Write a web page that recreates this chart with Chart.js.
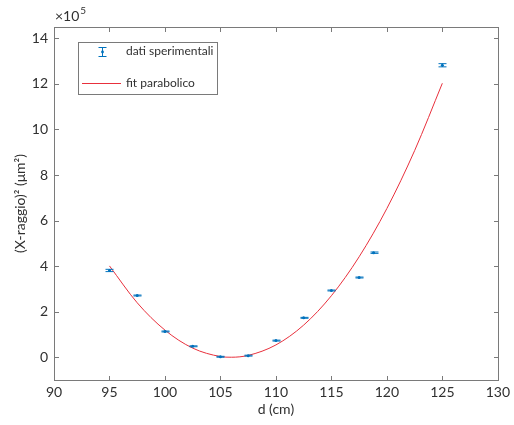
<!DOCTYPE html>
<html>
<head>
<meta charset="utf-8">
<script src="https://cdn.jsdelivr.net/npm/chart.js@4.4.1/dist/chart.umd.min.js"></script>
<style>
  html, body { margin: 0; padding: 0; background: #fff; }
  #wrap { width: 514px; height: 425px; }
</style>
</head>
<body>
<div id="wrap"><canvas id="c" width="514" height="425"></canvas></div>
<script>
// measured points: distance d (cm), (X-raggio)^2 (um^2), error on y
const dX = [95, 97.5, 100, 102.5, 105, 107.5, 110, 112.5, 115, 117.5, 118.8, 125];
const dY = [3.81e5, 2.71e5, 1.13e5, 0.48e5, 0.02e5, 0.07e5, 0.73e5, 1.73e5, 2.93e5, 3.50e5, 4.59e5, 12.82e5];
const dErr = [0.05e5, 0.02e5, 0.02e5, 0.02e5, 0.02e5, 0.02e5, 0.02e5, 0.02e5, 0.02e5, 0.02e5, 0.03e5, 0.07e5];

// parabolic fit curve, sampled
const fitX = [95, 97.5, 100, 102.5, 105, 106, 107.5, 110, 112.5, 115, 117.5, 120, 122.5, 125];
const fitY = [4.01e5, 2.39e5, 1.19e5, 0.40e5, 0.03e5, 0, 0.08e5, 0.54e5, 1.41e5, 2.70e5, 4.41e5, 6.53e5, 9.07e5, 12.03e5];

const xTicks = [90, 95, 100, 105, 110, 115, 120, 125, 130];
const yTicks = [0, 2e5, 4e5, 6e5, 8e5, 10e5, 12e5, 14e5];

const BLUE = '#0072BD';
const RED = '#e8303c';
const AXIS = '#7a7a7a';
const TEXT = '#303030';
const FONT = 'Lato, "DejaVu Sans", sans-serif';

const frame = {
  id: 'frame',
  afterDatasetsDraw(chart) {
    const { ctx, chartArea: a, scales: { x, y } } = chart;
    ctx.save();

    // error bars on the measured points
    ctx.strokeStyle = BLUE;
    ctx.lineWidth = 1;
    dX.forEach((v, i) => {
      const px = Math.round(x.getPixelForValue(v)) + 0.5;
      const top = y.getPixelForValue(dY[i] + dErr[i]);
      const bot = y.getPixelForValue(dY[i] - dErr[i]);
      ctx.beginPath();
      ctx.moveTo(px, top); ctx.lineTo(px, bot);
      ctx.moveTo(px - 4, top); ctx.lineTo(px + 4, top);
      ctx.moveTo(px - 4, bot); ctx.lineTo(px + 4, bot);
      ctx.stroke();
    });

    // box and inward ticks on all four sides
    ctx.strokeStyle = AXIS;
    ctx.lineWidth = 1;
    const L = Math.round(a.left) + 0.5, R = Math.round(a.right) + 0.5;
    const T = Math.round(a.top) + 0.5, B = Math.round(a.bottom) + 0.5;
    ctx.strokeRect(L, T, R - L, B - T);
    const tl = 4.5;
    ctx.beginPath();
    xTicks.forEach(v => {
      const px = Math.round(x.getPixelForValue(v)) + 0.5;
      ctx.moveTo(px, B); ctx.lineTo(px, B - tl);
      ctx.moveTo(px, T); ctx.lineTo(px, T + tl);
    });
    yTicks.forEach(v => {
      const py = Math.round(y.getPixelForValue(v)) + 0.5;
      ctx.moveTo(L, py); ctx.lineTo(L + tl, py);
      ctx.moveTo(R, py); ctx.lineTo(R - tl, py);
    });
    ctx.stroke();

    // exponent label above the y axis
    ctx.fillStyle = TEXT;
    ctx.textBaseline = 'alphabetic';
    ctx.textAlign = 'left';
    ctx.font = '14px ' + FONT;
    ctx.fillText('\u00d710', 55, 21);
    const w = ctx.measureText('\u00d710').width;
    ctx.font = '10px ' + FONT;
    ctx.fillText('5', 55 + w + 1, 14);

    // legend
    const lx = 78.5, ly = 42.5, lw = 139, lh = 52;
    ctx.fillStyle = '#fff';
    ctx.fillRect(lx, ly, lw, lh);
    ctx.strokeStyle = AXIS;
    ctx.strokeRect(lx, ly, lw, lh);

    ctx.strokeStyle = BLUE;
    ctx.beginPath();
    ctx.moveTo(102.5, 47); ctx.lineTo(102.5, 57);
    ctx.moveTo(98.5, 47.5); ctx.lineTo(106.5, 47.5);
    ctx.moveTo(98.5, 56.5); ctx.lineTo(106.5, 56.5);
    ctx.stroke();
    ctx.fillStyle = BLUE;
    ctx.beginPath();
    ctx.arc(102.5, 52, 1.4, 0, Math.PI * 2);
    ctx.fill();

    ctx.strokeStyle = RED;
    ctx.beginPath();
    ctx.moveTo(82, 83.5); ctx.lineTo(121, 83.5);
    ctx.stroke();

    ctx.fillStyle = TEXT;
    ctx.font = '12px ' + FONT;
    ctx.textBaseline = 'middle';
    ctx.fillText('dati sperimentali', 126, 51);
    ctx.fillText('fit parabolico', 126, 83);

    ctx.restore();
  }
};

new Chart(document.getElementById('c'), {
  type: 'scatter',
  data: {
    datasets: [
      {
        label: 'fit parabolico',
        data: fitX.map((v, i) => ({ x: v, y: fitY[i] })),
        showLine: true,
        borderColor: RED,
        borderWidth: 1,
        pointRadius: 0,
        cubicInterpolationMode: 'monotone',
        order: 2
      },
      {
        label: 'dati sperimentali',
        data: dX.map((v, i) => ({ x: v, y: dY[i] })),
        showLine: false,
        pointRadius: 1.5,
        pointBackgroundColor: BLUE,
        pointBorderColor: BLUE,
        pointBorderWidth: 0,
        order: 1
      }
    ]
  },
  options: {
    responsive: false,
    animation: false,
    devicePixelRatio: 1,
    layout: { padding: { left: 0, right: 12, top: 27, bottom: 0 } },
    plugins: {
      legend: { display: false },
      tooltip: { enabled: false }
    },
    scales: {
      x: {
        type: 'linear',
        min: 90,
        max: 130,
        afterBuildTicks: s => { s.ticks = xTicks.map(v => ({ value: v })); },
        afterFit: s => { s.height = 45; },
        grid: { display: false, drawTicks: false },
        border: { display: false },
        ticks: { color: TEXT, font: { family: FONT, size: 14 }, padding: 4, maxRotation: 0 },
        title: {
          display: true,
          text: 'd (cm)',
          color: TEXT,
          font: { family: FONT, size: 14 },
          padding: { top: 0, bottom: 7 }
        }
      },
      y: {
        type: 'linear',
        min: -1e5,
        max: 14.5e5,
        afterBuildTicks: s => { s.ticks = yTicks.map(v => ({ value: v })); },
        afterFit: s => { s.width = 54; },
        grid: { display: false, drawTicks: false },
        border: { display: false },
        ticks: {
          color: TEXT,
          font: { family: FONT, size: 14 },
          padding: 6,
          callback: v => String(Math.round(v / 1e5))
        },
        title: {
          display: true,
          text: '(X-raggio)\u00b2 (\u03bcm\u00b2)',
          color: TEXT,
          font: { family: FONT, size: 14 },
          padding: { top: 12, bottom: 0 }
        }
      }
    }
  },
  plugins: [frame]
});
</script>
</body>
</html>
